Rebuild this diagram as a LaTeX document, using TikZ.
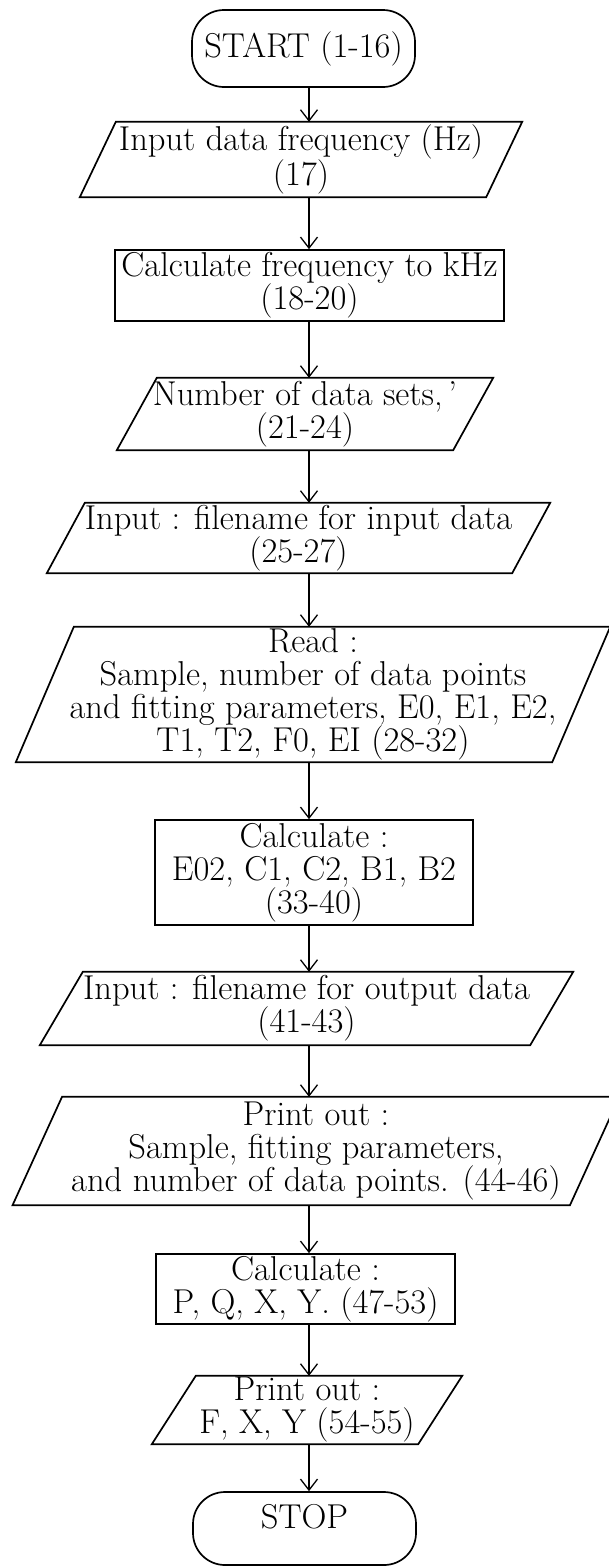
\documentclass[tikz,border=0pt]{standalone}
\usepackage{fontspec}
\usepackage{tikz}
\usetikzlibrary{arrows.meta, positioning}

\begin{document}
\begin{tikzpicture}[
      x=1pt, y=-1pt,
      every node/.style={inner sep=0pt, align=center, font=\fontsize{34.5}{33}\selectfont},
      term/.style={draw, line width=1.7pt, rounded corners=32pt},
      proc/.style={draw, line width=1.7pt},
      io/.style={line width=1.7pt},
      flow/.style={line width=1.3pt, -{Straight Barb[length=11pt, width=17pt]}}
    ]
      \useasboundingbox (0,0) rectangle (609,1566);
      \coordinate (axis) at (309,0);

      \node[term, minimum width=223pt, minimum height=77pt] (start) at (303.5,48.5) {START (1-16)};
      \node[minimum width=406pt, minimum height=75pt] (freq) at (301,159.5) {Input data frequency (Hz)\\(17)};
      \node[proc, minimum width=389pt, minimum height=71pt] (khz) at (309.5,285.5) {Calculate frequency to kHz\\(18-20)};
      \node[minimum width=336pt, minimum height=72pt] (sets) at (305,414) {Number of data sets,\,'\\(21-24)};
      \node[minimum width=465pt, minimum height=70pt] (infile) at (298.5,538) {Input : filename for input data\\(25-27)};
      \node[minimum width=536pt, minimum height=135pt] (read) at (313,694.5) {Read :\\Sample, number of data points\\and fitting parameters, E0, E1, E2,\\T1, T2, F0, EI (28-32)};
      \node[proc, minimum width=318pt, minimum height=105pt] (coef) at (314,872.5) {Calculate :\\E02, C1, C2, B1, B2\\(33-40)};
      \node[minimum width=490pt, minimum height=73pt] (outfile) at (306.5,1008.5) {Input : filename for output data\\(41-43)};
      \node[minimum width=557pt, minimum height=108pt] (params) at (316,1151) {Print out :\\Sample, fitting parameters,\\and number of data points. (44-46)};
      \node[proc, minimum width=299pt, minimum height=70pt] (pqxy) at (305.5,1289) {Calculate :\\P, Q, X, Y. (47-53)};
      \node[minimum width=266pt, minimum height=68pt] (fxy) at (307,1410) {Print out :\\F, X, Y (54-55)};
      \node[term, minimum width=223pt, minimum height=73pt, text depth=24pt] (stop) at (304.5,1528.5) {STOP};

      % input / output boxes
      \foreach \n/\s in {freq/36, sets/40, infile/38, read/58, outfile/43, params/49.5, fxy/44}
        \draw[io] ([xshift=\s/2]\n.north west) -- ([xshift=\s/2]\n.north east)
          -- ([xshift=-\s/2]\n.south east) -- ([xshift=-\s/2]\n.south west) -- cycle;

      \foreach \a/\b in {start/freq, freq/khz, khz/sets, sets/infile, infile/read, read/coef,
                         coef/outfile, outfile/params, params/pqxy, pqxy/fxy, fxy/stop}
        \draw[flow] (\a.south -| axis) -- (\b.north -| axis);
\end{tikzpicture}
\end{document}
